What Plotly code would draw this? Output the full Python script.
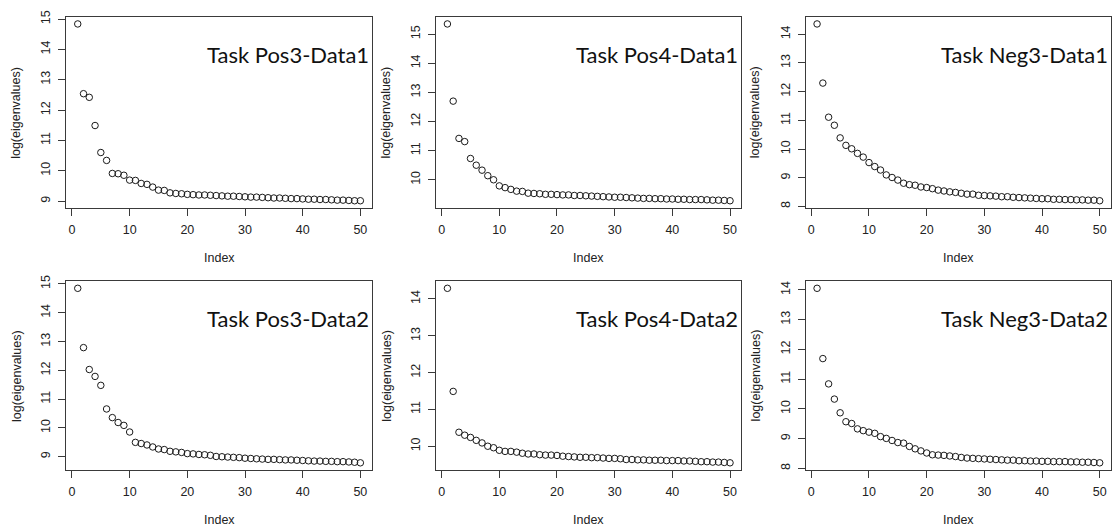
import plotly.graph_objects as go

W, H = 1112, 529

index = list(range(1, 51))

titles = ["Task Pos3-Data1", "Task Pos4-Data1", "Task Neg3-Data1",
          "Task Pos3-Data2", "Task Pos4-Data2", "Task Neg3-Data2"]

pos3_data1 = [14.84, 12.54, 12.42, 11.49, 10.60, 10.34, 9.91, 9.90, 9.85, 9.69,
              9.68, 9.58, 9.55, 9.46, 9.36, 9.35, 9.27, 9.25, 9.24, 9.22,
              9.21, 9.20, 9.20, 9.19, 9.18, 9.17, 9.16, 9.16, 9.15, 9.14,
              9.13, 9.13, 9.12, 9.11, 9.10, 9.10, 9.09, 9.08, 9.08, 9.07,
              9.06, 9.06, 9.05, 9.05, 9.04, 9.03, 9.03, 9.02, 9.01, 9.01]

pos4_data1 = [15.35, 12.70, 11.42, 11.31, 10.73, 10.50, 10.33, 10.14, 10.00, 9.79,
              9.73, 9.67, 9.61, 9.60, 9.54, 9.53, 9.52, 9.50, 9.50, 9.49,
              9.48, 9.48, 9.46, 9.46, 9.45, 9.44, 9.43, 9.42, 9.41, 9.40,
              9.40, 9.39, 9.38, 9.37, 9.36, 9.36, 9.35, 9.35, 9.34, 9.34,
              9.33, 9.33, 9.32, 9.32, 9.32, 9.31, 9.30, 9.30, 9.29, 9.28]

neg3_data1 = [14.36, 12.30, 11.11, 10.83, 10.39, 10.13, 10.01, 9.85, 9.72, 9.53,
              9.39, 9.27, 9.10, 9.01, 8.92, 8.81, 8.76, 8.74, 8.68, 8.66,
              8.62, 8.57, 8.54, 8.51, 8.49, 8.46, 8.43, 8.43, 8.39, 8.38,
              8.37, 8.36, 8.34, 8.34, 8.32, 8.31, 8.30, 8.29, 8.28, 8.27,
              8.27, 8.25, 8.25, 8.24, 8.24, 8.23, 8.23, 8.22, 8.22, 8.20]

pos3_data2 = [14.85, 12.79, 12.03, 11.79, 11.48, 10.66, 10.36, 10.19, 10.09, 9.86,
              9.50, 9.46, 9.41, 9.34, 9.27, 9.25, 9.19, 9.17, 9.15, 9.11,
              9.10, 9.08, 9.07, 9.05, 9.01, 9.00, 8.99, 8.98, 8.97, 8.95,
              8.94, 8.93, 8.92, 8.91, 8.91, 8.90, 8.89, 8.89, 8.88, 8.87,
              8.86, 8.85, 8.85, 8.84, 8.84, 8.83, 8.83, 8.82, 8.81, 8.79]

pos4_data2 = [14.29, 11.49, 10.38, 10.30, 10.24, 10.16, 10.09, 10.00, 9.96, 9.89,
              9.86, 9.86, 9.84, 9.81, 9.79, 9.79, 9.77, 9.76, 9.76, 9.75,
              9.73, 9.72, 9.71, 9.70, 9.70, 9.69, 9.69, 9.68, 9.67, 9.67,
              9.66, 9.64, 9.64, 9.63, 9.63, 9.62, 9.62, 9.62, 9.61, 9.61,
              9.61, 9.60, 9.60, 9.59, 9.58, 9.58, 9.57, 9.57, 9.56, 9.55]

neg3_data2 = [14.05, 11.69, 10.84, 10.33, 9.87, 9.57, 9.51, 9.33, 9.27, 9.22,
              9.18, 9.07, 9.01, 8.94, 8.87, 8.85, 8.74, 8.66, 8.59, 8.52,
              8.46, 8.45, 8.44, 8.42, 8.40, 8.37, 8.35, 8.34, 8.33, 8.32,
              8.31, 8.30, 8.29, 8.28, 8.28, 8.26, 8.26, 8.25, 8.25, 8.24,
              8.24, 8.23, 8.23, 8.23, 8.22, 8.22, 8.21, 8.21, 8.20, 8.19]

x_ticks = [0, 10, 20, 30, 40, 50]
x_title = "Index"
y_title = "log(eigenvalues)"

series = [pos3_data1, pos4_data1, neg3_data1, pos3_data2, pos4_data2, neg3_data2]

# panel frames in pixels (left, right) and (top, bottom)
cols = [(66.5, 372.0), (436.5, 742.0), (806.5, 1112.0)]
rows = [(10.0, 203.5), (278.0, 469.0)]

FONT = "Liberation Sans, Arial, Helvetica, sans-serif"
INK = "#222222"
FRAME = "#3a3a3a"

fig = go.Figure()
layout = dict(
    width=W, height=H,
    margin=dict(l=0, r=0, t=0, b=0),
    paper_bgcolor="white", plot_bgcolor="white",
    showlegend=False,
    font=dict(family=FONT, size=12.5, color=INK),
)
annotations = []

for i, ys in enumerate(series):
    r, c = divmod(i, 3)
    k = "" if i == 0 else str(i + 1)
    xl, xr = cols[c]
    yt, yb = rows[r]
    fig.add_trace(go.Scatter(
        x=index, y=ys, mode="markers",
        marker=dict(symbol="circle-open", size=6.5, color="#1a1a1a",
                    line=dict(width=1, color="#1a1a1a")),
        xaxis="x" + k, yaxis="y" + k, hoverinfo="x+y",
    ))
    xmin, xmax = min(index), max(index)
    ymin, ymax = min(ys), max(ys)
    dx = (xmax - xmin) * 0.04
    dy = (ymax - ymin) * 0.04
    layout["xaxis" + k] = dict(
        domain=[xl / W, xr / W], anchor="y" + k,
        range=[xmin - dx, xmax + dx],
        tickmode="array", tickvals=x_ticks, ticktext=[str(v) for v in x_ticks],
        ticks="outside", ticklen=7, tickwidth=1, tickcolor=FRAME,
        showline=True, linecolor=FRAME, linewidth=1, mirror=True,
        showgrid=False, zeroline=False,
        tickfont=dict(family=FONT, size=12.5, color=INK),
        ticklabelstandoff=3,
    )
    layout["yaxis" + k] = dict(
        domain=[1 - yb / H, 1 - yt / H], anchor="x" + k,
        range=[ymin - dy, ymax + dy],
        tickmode="linear", tick0=0, dtick=1,
        ticks="outside", ticklen=7, tickwidth=1, tickcolor=FRAME,
        showline=True, linecolor=FRAME, linewidth=1, mirror=True,
        showgrid=False, zeroline=False,
        tickangle=-90,
        tickfont=dict(family=FONT, size=12.5, color=INK),
        ticklabelstandoff=3,
    )
    # axis titles
    annotations.append(dict(
        text=x_title, xref="paper", yref="paper",
        x=(xl + xr) / 2 / W, y=1 - (yb + 51) / H,
        xanchor="center", yanchor="middle", showarrow=False,
        font=dict(family=FONT, size=12.5, color=INK),
    ))
    annotations.append(dict(
        text=y_title, xref="paper", yref="paper",
        x=(xl - 50) / W, y=1 - (yt + yb) / 2 / H,
        xanchor="center", yanchor="middle", showarrow=False, textangle=-90,
        font=dict(family=FONT, size=12.5, color=INK),
    ))
    # panel label
    annotations.append(dict(
        text=titles[i], xref="paper", yref="paper",
        x=(xr - 1) / W, y=1 - (yt + 38) / H,
        xanchor="right", yanchor="middle", showarrow=False,
        font=dict(family="Lato, Open Sans, sans-serif", size=22, color="#111111"),
    ))

layout["annotations"] = annotations
fig.update_layout(**layout)
fig.write_html("out.html")
